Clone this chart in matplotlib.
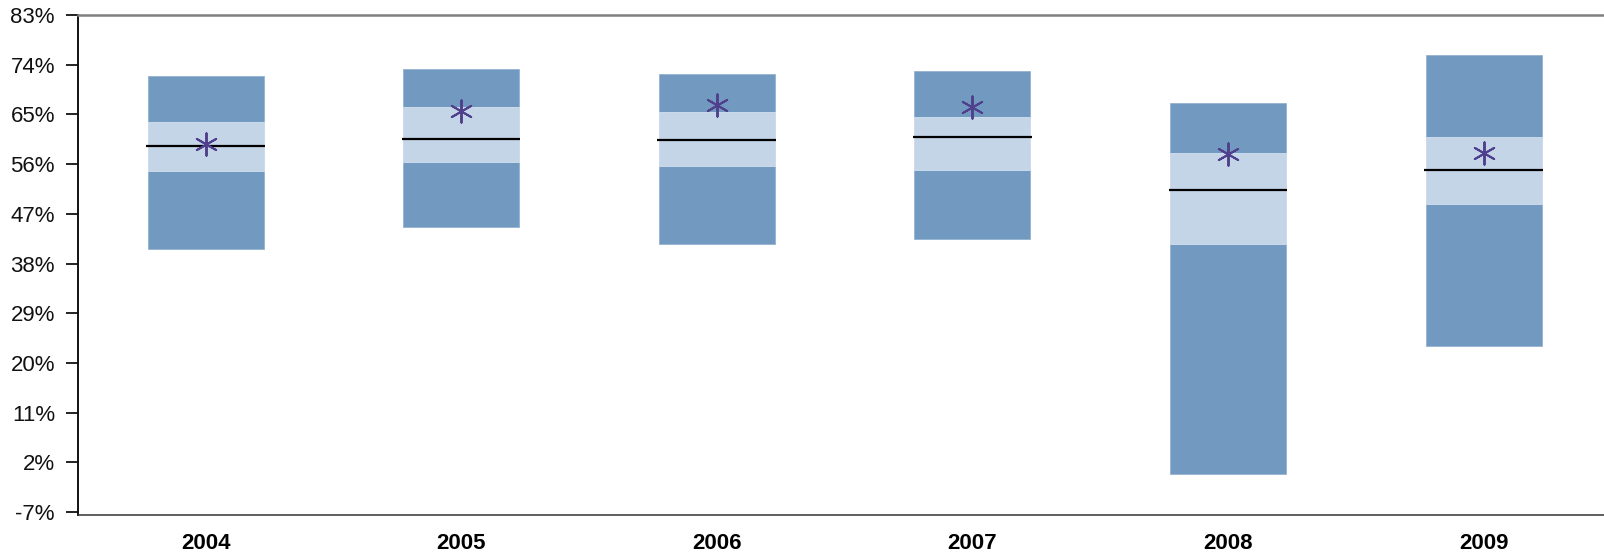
import matplotlib
matplotlib.use("Agg")
import matplotlib.pyplot as plt
from matplotlib.ticker import FuncFormatter

years = ['2004', '2005', '2006', '2007', '2008', '2009']
low = [40.7, 44.6, 41.5, 42.4, -0.2, 23.1]
q1 = [54.7, 56.4, 55.6, 54.9, 41.5, 48.7]
median = [59.3, 60.5, 60.4, 60.9, 51.3, 54.9]
q3 = [63.7, 66.3, 65.4, 64.6, 58.1, 60.9]
high = [72.0, 73.3, 72.4, 72.9, 67.0, 75.7]
mean = [59.6, 65.6, 66.7, 66.4, 57.8, 58.1]
y_ticks = [-7, 2, 11, 20, 29, 38, 47, 56, 65, 74, 83]

plt.rcParams['font.family'] = ['Liberation Sans', 'DejaVu Sans']

fig = plt.figure(figsize=(16.04, 5.54), dpi=100)
ax = fig.add_axes([78 / 1604, 39 / 554, 1 - 78 / 1604, 500 / 554])

x = list(range(len(years)))
width = 0.454
dark = '#7299c0'
light = '#c4d5e7'

# outer range, then the inner band on top of it
ax.bar(x, [h - l for h, l in zip(high, low)], bottom=low, width=width,
       color=dark, edgecolor='#93b2d1', linewidth=0.6, zorder=2)
ax.bar(x, [b - a for b, a in zip(q3, q1)], bottom=q1, width=width,
       color=light, edgecolor='#d3e0ee', linewidth=0.6, zorder=3)
ax.hlines(median, [i - width / 2 - 0.005 for i in x], [i + width / 2 + 0.005 for i in x],
          color='black', linewidth=1.6, zorder=4)
ax.scatter(x, mean, marker=(6, 2, 0), s=260, color='#503f8c', linewidths=1.4, zorder=5)

ax.set_xlim(-0.499, 5.471)
ax.set_ylim(-7.54, 83)
ax.set_yticks(y_ticks)
ax.yaxis.set_major_formatter(FuncFormatter(lambda v, p: f'{v:.0f}%'))
ax.set_xticks(x)
ax.set_xticklabels(years, fontsize=16, fontweight='bold')
ax.tick_params(axis='x', length=0, pad=13)
ax.tick_params(axis='y', length=8.6, width=1.3, pad=8, labelsize=16, colors='#111111')

ax.spines['right'].set_visible(False)
ax.spines['top'].set_color('#808080')
ax.spines['top'].set_linewidth(1.8)
ax.spines['left'].set_color('#111111')
ax.spines['left'].set_linewidth(1.4)
ax.spines['bottom'].set_color('#333333')
ax.spines['bottom'].set_linewidth(1.1)

fig.savefig('out.png', dpi=100)
